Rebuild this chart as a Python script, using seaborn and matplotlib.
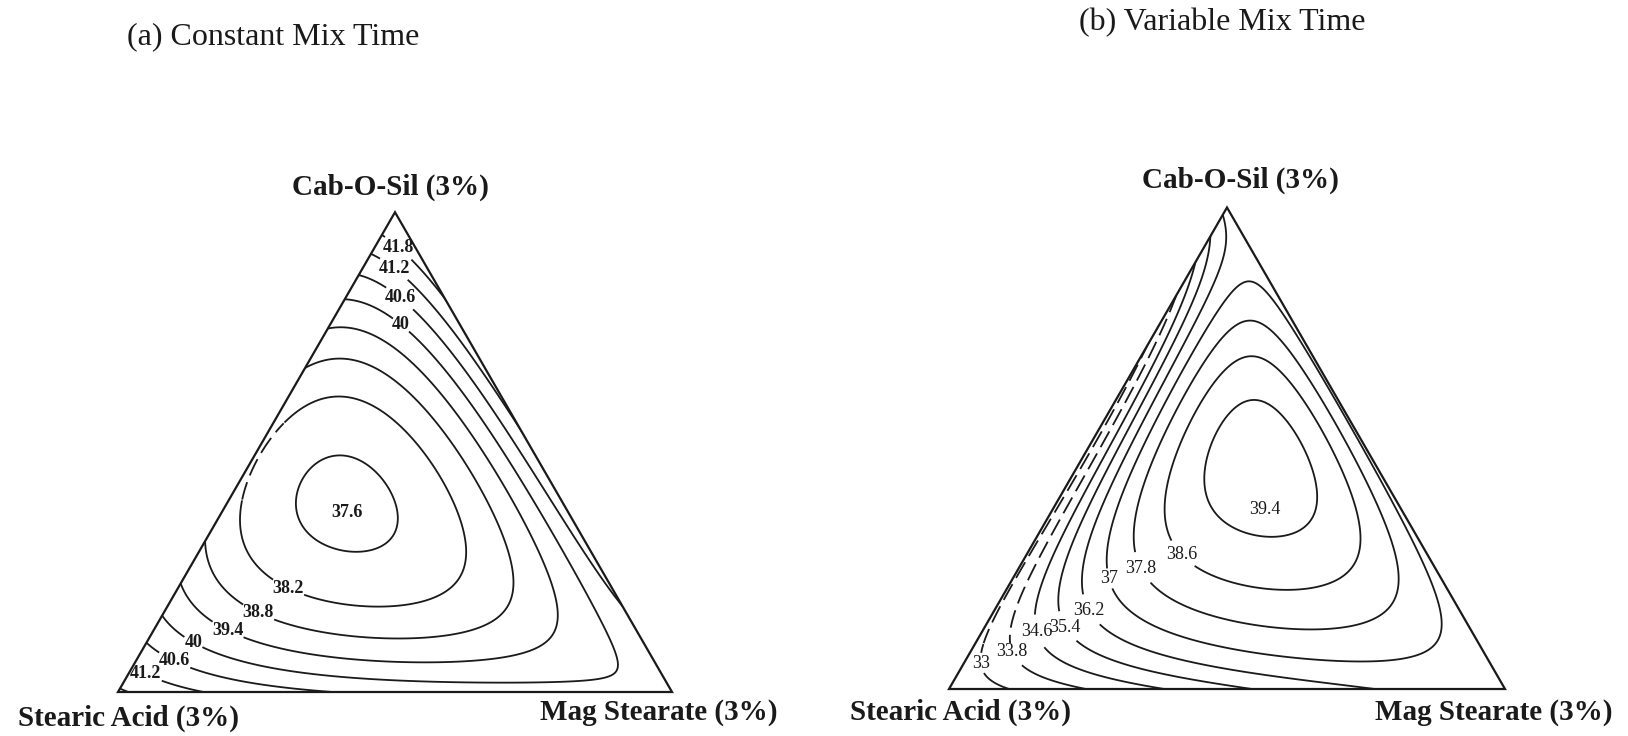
import numpy as np
import matplotlib
matplotlib.use("Agg")
import matplotlib.pyplot as plt
from matplotlib.patches import Polygon
import seaborn as sns

sns.set_theme(style="white")
plt.rcParams["font.family"] = ["Liberation Serif", "DejaVu Serif"]

# design blends: {3,3} simplex lattice plus three axial check blends
# (Cab-O-Sil, Stearic Acid, Mag Stearate fractions)
blend_cab = [1, 0, 0, 2/3, 1/3, 2/3, 1/3, 0, 0, 1/3, 2/3, 1/6, 1/6]
blend_sa = [0, 1, 0, 1/3, 2/3, 0, 0, 2/3, 1/3, 1/3, 1/6, 2/3, 1/6]
blend_ms = [0, 0, 1, 0, 0, 1/3, 2/3, 1/3, 2/3, 1/3, 1/6, 1/6, 2/3]

# responses at the design blends
resp_const = [42.6, 41.9, 40.0, 38.75, 38.7, 41.4, 40.9, 40.7, 40.3, 37.6,
              38.95, 38.8, 39.1]
resp_var = [36.5, 32.4, 36.4, 32.8, 32.7, 36.8, 36.7, 34.3, 35.9, 39.35,
            38.6, 36.2, 38.0]

# contour levels
levels_const = [37.6, 38.2, 38.8, 39.4, 40.0, 40.6, 41.2, 41.8]
levels_var = [33.0, 33.8, 34.6, 35.4, 36.2, 37.0, 37.8, 38.6, 39.4]

panel_titles = ["(a) Constant Mix Time", "(b) Variable Mix Time"]
vertex_names = ["Cab-O-Sil (3%)", "Stearic Acid (3%)", "Mag Stearate (3%)"]

# contour values written on the lines: (level, Cab-O-Sil, Mag Stearate)
label_spots_const = [
    (41.8, 0.944, 0.048), (41.2, 0.892, 0.059), (40.6, 0.814, 0.097),
    (40.0, 0.758, 0.127), (38.2, 0.249, 0.196),
    (38.8, 0.184, 0.169), (39.4, 0.137, 0.133), (40.0, 0.108, 0.084),
    (40.6, 0.068, 0.069), (41.2, 0.040, 0.031),
]
label_spots_var = [
    (33.0, 0.056, 0.050), (33.8, 0.081, 0.079), (34.6, 0.123, 0.109),
    (35.4, 0.137, 0.154), (36.2, 0.171, 0.179), (37.0, 0.233, 0.184),
    (37.8, 0.254, 0.224), (38.6, 0.304, 0.289),
]
# values written inside the innermost closed contour
inner_label_const = (37.6, 0.374, 0.227)
inner_label_var = (39.4, 0.372, 0.382)

W, H_PX = 1628, 736
H = np.sqrt(3) / 2


def model_terms(c1, c2, c3):
    # full cubic Scheffe polynomial plus higher-order blending terms
    g = c1 * c2 * c3
    return np.stack([c1, c2, c3, c1 * c2, c1 * c3, c2 * c3,
                     c1 * c2 * (c1 - c2), c1 * c3 * (c1 - c3),
                     c2 * c3 * (c2 - c3), g, g * c1, g * c2, g * g], axis=-1)


def fit_surface(resp):
    A = model_terms(np.array(blend_cab, float), np.array(blend_sa, float),
                    np.array(blend_ms, float))
    return np.linalg.solve(A, np.array(resp, float))


def to_xy(cab, ms):
    return ms + 0.5 * cab, H * cab


xs = np.linspace(-0.02, 1.02, 700)
ys = np.linspace(-0.02, H + 0.02, 620)
GX, GY = np.meshgrid(xs, ys)
G_CAB = GY / H
G_MS = GX - 0.5 * G_CAB
G_SA = 1 - G_CAB - G_MS

DASH = (0, (10, 4))
INK = "#1a1a1a"


def fmt(v):
    return f"{v:g}"


def draw_panel(ax, resp, levels, spots, inner, dashed, weight):
    coef = fit_surface(resp)
    Z = model_terms(G_CAB, G_SA, G_MS) @ coef
    verts = [(0, 0), (1, 0), (0.5, H)]
    clip = Polygon(verts, closed=True, transform=ax.transData)
    sets = {}
    for lev in levels:
        if lev in dashed:
            region = dashed[lev](G_CAB, G_MS)
            cs = ax.contour(GX, GY, np.ma.masked_where(region, Z), [lev],
                            colors=INK, linewidths=1.3)
            csd = ax.contour(GX, GY, np.ma.masked_where(~region, Z), [lev],
                             colors=INK, linewidths=1.3, linestyles=[DASH])
            csd.set_clip_path(clip)
        else:
            cs = ax.contour(GX, GY, Z, [lev], colors=INK, linewidths=1.3)
        cs.set_clip_path(clip)
        sets[lev] = cs
    for lev, cab, ms in spots:
        x, y = to_xy(cab, ms)
        txts = ax.clabel(sets[lev], [lev], manual=[(x, y)], inline=True,
                         inline_spacing=1, fmt=fmt, fontsize=13)
        for t in txts:
            t.set_rotation(0)
            t.set_fontweight(weight)
            t.set_color(INK)
    lev, cab, ms = inner
    x, y = to_xy(cab, ms)
    ax.text(x, y, fmt(lev), ha="center", va="center", fontsize=13,
            fontweight=weight, color=INK)
    ax.add_patch(Polygon(verts, closed=True, fill=False, edgecolor=INK,
                         linewidth=1.6, clip_on=False, joinstyle="miter"))
    ax.set_xlim(0, 1)
    ax.set_ylim(0, H)
    ax.set_axis_off()


fig = plt.figure(figsize=(W / 100, H_PX / 100), dpi=100)
fig.patch.set_facecolor("white")


def add_axes(left, bottom, width):
    return fig.add_axes([left / W, 1 - bottom / H_PX, width / W, width * H / H_PX])


ax_a = add_axes(118, 692, 554)
ax_b = add_axes(949, 689, 556)

draw_panel(ax_a, resp_const, levels_const, label_spots_const, inner_label_const,
           {38.2: lambda c, m: (c > 0.40) & (c < 0.56) & (m < 0.2)}, "bold")
draw_panel(ax_b, resp_var, levels_var, label_spots_var, inner_label_var,
           {33.0: lambda c, m: c > 0.095, 33.8: lambda c, m: c > 0.095}, "normal")


def ftext(x, y, s, **kw):
    fig.text(x / W, 1 - y / H_PX, s, ha="center", va="center", color=INK, **kw)


ftext(273, 37, panel_titles[0], fontsize=23)
ftext(1222, 23, panel_titles[1], fontsize=23)

for (cx, cy), (sx, sy), (mx, my) in [((390, 187), (128, 718), (659, 712)),
                                      ((1240, 180), (960, 712), (1494, 713))]:
    ftext(cx, cy, vertex_names[0], fontsize=21, fontweight="bold")
    ftext(sx, sy, vertex_names[1], fontsize=21, fontweight="bold")
    ftext(mx, my, vertex_names[2], fontsize=21, fontweight="bold")

fig.savefig("out.png", dpi=100, facecolor="white")
